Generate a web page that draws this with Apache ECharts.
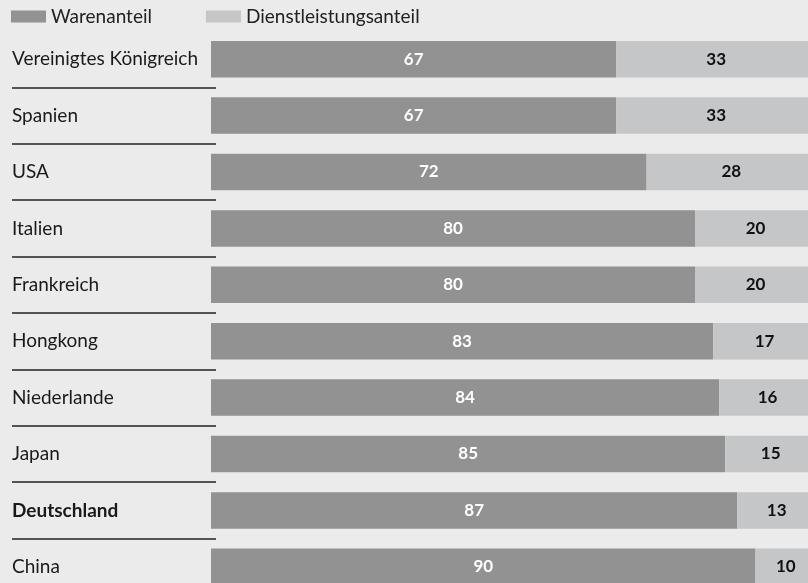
<!DOCTYPE html>
<html>
<head>
<meta charset="utf-8">
<script src="https://cdn.jsdelivr.net/npm/echarts@6/dist/echarts.min.js"></script>
<style>
  html, body { margin: 0; padding: 0; background: #ebebeb; }
  #main { width: 808px; height: 583px; }
</style>
</head>
<body>
<div id="main"></div>
<script>
var countries = ['Vereinigtes Königreich', 'Spanien', 'USA', 'Italien', 'Frankreich',
                 'Hongkong', 'Niederlande', 'Japan', 'Deutschland', 'China'];
var waren = [67, 67, 72, 80, 80, 83, 84, 85, 87, 90];
var dienst = [33, 33, 28, 20, 20, 17, 16, 15, 13, 10];

var FONT = 'Lato';

var chart = echarts.init(document.getElementById('main'));

var option = {
    backgroundColor: '#ebebeb',
    animation: false,
    textStyle: { fontFamily: FONT },
    legend: {
        left: 11,
        top: 7,
        padding: 0,
        itemWidth: 35,
        itemHeight: 12,
        itemGap: 54,
        icon: 'rect',
        textStyle: { fontSize: 19, color: '#222', fontFamily: FONT },
        data: ['Warenanteil', 'Dienstleistungsanteil']
    },
    grid: [
        { left: 211, top: 31, width: 605, height: 564, outerBoundsMode: 'none', containLabel: false },
        { left: 12, top: 31, width: 204, height: 564, outerBoundsMode: 'none', containLabel: false }
    ],
    xAxis: [
        { gridIndex: 0, type: 'value', min: 0, max: 100, show: false },
        { gridIndex: 1, type: 'value', min: 0, max: 100, show: false }
    ],
    yAxis: [
        {
            gridIndex: 0,
            type: 'category',
            inverse: true,
            data: countries,
            axisLine: { show: false },
            axisTick: { show: false },
            axisLabel: {
                align: 'left',
                margin: 199,
                fontSize: 19,
                color: '#1a1a1a',
                fontFamily: FONT,
                formatter: function (v) {
                    return v === 'Deutschland' ? '{b|' + v + '}' : v;
                },
                rich: { b: { fontWeight: 'bold', fontSize: 19, color: '#1a1a1a', fontFamily: FONT } }
            }
        },
        {
            gridIndex: 1,
            type: 'category',
            inverse: true,
            data: countries,
            axisLine: { show: false },
            axisTick: { show: false },
            axisLabel: { show: false },
            splitLine: {
                show: true,
                interval: function (i) { return i > 0; },
                lineStyle: { color: '#222', width: 1.5 }
            }
        }
    ],
    series: [
        {
            name: 'Warenanteil',
            type: 'bar',
            stack: 'total',
            barWidth: 36.5,
            data: waren,
            itemStyle: { color: '#929292' },
            label: {
                show: true,
                position: 'inside',
                color: '#fff',
                fontWeight: 'bold',
                fontSize: 17,
                fontFamily: FONT
            }
        },
        {
            name: 'Dienstleistungsanteil',
            type: 'bar',
            stack: 'total',
            barWidth: 36.5,
            data: dienst,
            itemStyle: { color: '#c5c6c7' },
            label: {
                show: true,
                position: 'inside',
                color: '#111',
                fontWeight: 'bold',
                fontSize: 17,
                fontFamily: FONT
            }
        }
    ]
};

chart.setOption(option);
</script>
</body>
</html>
